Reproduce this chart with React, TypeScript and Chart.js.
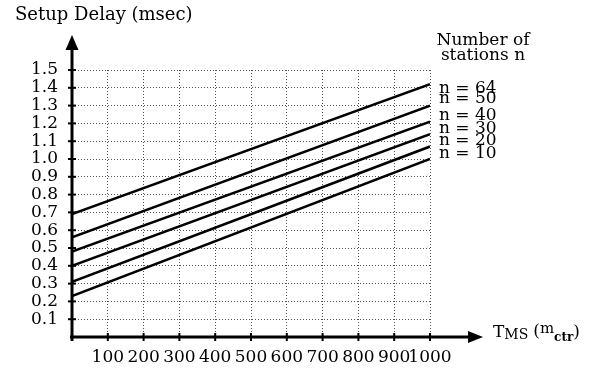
import React, { useEffect, useRef } from "react";
import { Chart, registerables } from "chart.js";

Chart.register(...registerables);

// ---- data ----
const xStart = 0;
const xEnd = 1000;
const seriesNames = ["n = 64", "n = 50", "n = 40", "n = 30", "n = 20", "n = 10"];
const startDelay = [0.69, 0.56, 0.48, 0.4, 0.31, 0.23];
const endDelay = [1.42, 1.3, 1.21, 1.14, 1.07, 1.0];
const xTickValues = [100, 200, 300, 400, 500, 600, 700, 800, 900, 1000];
const yTickValues = [0.1, 0.2, 0.3, 0.4, 0.5, 0.6, 0.7, 0.8, 0.9, 1.0, 1.1, 1.2, 1.3, 1.4, 1.5];
const yTitle = "Setup Delay (msec)";
const legendTitle = ["Number of", "stations n"];

const SERIF = '"DejaVu Serif", serif';

const overlayPlugin = {
  id: "overlay",
  afterDraw(chart: any) {
    const ctx = chart.ctx as CanvasRenderingContext2D;
    const xs = chart.scales.x;
    const ys = chart.scales.y;
    const left = xs.getPixelForValue(0);
    const bottom = ys.getPixelForValue(0);
    ctx.save();
    ctx.strokeStyle = "#000";
    ctx.fillStyle = "#000";
    // y axis
    ctx.lineWidth = 3;
    ctx.beginPath();
    ctx.moveTo(left, bottom + 4);
    ctx.lineTo(left, 46);
    ctx.stroke();
    ctx.beginPath();
    ctx.moveTo(left, 35);
    ctx.lineTo(left - 6.5, 50);
    ctx.lineTo(left + 6.5, 50);
    ctx.closePath();
    ctx.fill();
    // x axis
    ctx.beginPath();
    ctx.moveTo(left - 2, bottom);
    ctx.lineTo(472, bottom);
    ctx.stroke();
    ctx.beginPath();
    ctx.moveTo(483, bottom);
    ctx.lineTo(468, bottom - 6);
    ctx.lineTo(468, bottom + 6);
    ctx.closePath();
    ctx.fill();
    // tick marks
    ctx.lineWidth = 2;
    yTickValues.forEach((v) => {
      const y = ys.getPixelForValue(v);
      ctx.beginPath();
      ctx.moveTo(left - 4, y);
      ctx.lineTo(left + 4, y);
      ctx.stroke();
    });
    xTickValues.forEach((v) => {
      const x = xs.getPixelForValue(v);
      ctx.beginPath();
      ctx.moveTo(x, bottom - 4);
      ctx.lineTo(x, bottom + 4);
      ctx.stroke();
    });

    // titles
    ctx.textBaseline = "alphabetic";
    ctx.textAlign = "left";
    ctx.font = `18px ${SERIF}`;
    ctx.fillText(yTitle, 15, 20);
    ctx.textAlign = "center";
    ctx.font = `17px ${SERIF}`;
    ctx.fillText(legendTitle[0], 483, 45);
    ctx.fillText(legendTitle[1], 483, 60);

    // series labels
    const labelOffsets = [4, -7, -6, -6, -6, -5];
    ctx.textAlign = "left";
    ctx.textBaseline = "middle";
    ctx.font = `17px ${SERIF}`;
    chart.data.datasets.forEach((ds: any, i: number) => {
      const meta = chart.getDatasetMeta(i);
      const last = meta.data[meta.data.length - 1];
      ctx.fillText(ds.label, 439, last.y + labelOffsets[i]);
    });

    // x axis title: T_MS (m_ctr)
    ctx.textBaseline = "alphabetic";
    let x = 493;
    ctx.font = `17px ${SERIF}`;
    ctx.fillText("T", x, 337);
    x += ctx.measureText("T").width;
    ctx.font = `14px ${SERIF}`;
    ctx.fillText("MS", x, 339);
    x += ctx.measureText("MS").width + 5;
    ctx.font = `17px ${SERIF}`;
    ctx.fillText("(", x, 336);
    x += ctx.measureText("(").width;
    ctx.font = `15px ${SERIF}`;
    ctx.fillText("m", x, 333);
    x += ctx.measureText("m").width;
    ctx.font = `bold 12px ${SERIF}`;
    ctx.fillText("ctr", x, 341);
    x += ctx.measureText("ctr").width;
    ctx.font = `17px ${SERIF}`;
    ctx.fillText(")", x, 337);
    ctx.restore();
  },
};

export default function App() {
  const ref = useRef<HTMLCanvasElement | null>(null);
  useEffect(() => {
    if (!ref.current) return;
    const datasets = seriesNames.map((name, i) => ({
      label: name,
      data: [
        { x: xStart, y: startDelay[i] },
        { x: xEnd, y: endDelay[i] },
      ],
      borderColor: "#000",
      borderWidth: 2.5,
      pointRadius: 0,
      fill: false,
      tension: 0,
    }));
    const chart = new Chart(ref.current, {
      type: "line",
      data: { datasets },
      options: {
        animation: false,
        responsive: false,
        maintainAspectRatio: false,
        layout: { padding: { left: 0, top: 70, right: 185, bottom: 0 } },
        plugins: { legend: { display: false }, tooltip: { enabled: false }, title: { display: false } },
        scales: {
          x: {
            type: "linear",
            min: 0,
            max: 1000,
            afterFit: (s: any) => {
              s.height = 31;
            },
            afterBuildTicks: (s: any) => {
              s.ticks = [0, ...xTickValues].map((v) => ({ value: v }));
            },
            ticks: {
              autoSkip: false,
              maxRotation: 0,
              padding: 10,
              color: "#000",
              font: { family: SERIF, size: 17 },
              callback: (v: any) => (v === 0 ? "" : String(v)),
            },
            grid: { color: "#555", lineWidth: 1, drawTicks: false },
            border: { display: false, dash: [1, 2] },
          },
          y: {
            type: "linear",
            min: 0,
            max: 1.5,
            afterFit: (s: any) => {
              s.width = 72;
            },
            afterBuildTicks: (s: any) => {
              s.ticks = [0, ...yTickValues].map((v) => ({ value: v }));
            },
            ticks: {
              autoSkip: false,
              padding: 14,
              color: "#000",
              font: { family: SERIF, size: 17 },
              callback: (v: any) => (v === 0 ? "" : Number(v).toFixed(1)),
            },
            grid: { color: "#555", lineWidth: 1, drawTicks: false },
            border: { display: false, dash: [1, 2] },
          },
        },
      },
      plugins: [overlayPlugin],
    });
    return () => chart.destroy();
  }, []);
  return (
    <div style={{ position: "absolute", left: 0, top: 0, width: 615, height: 368, background: "#fff" }}>
      <canvas ref={ref} width={615} height={368} />
    </div>
  );
}
